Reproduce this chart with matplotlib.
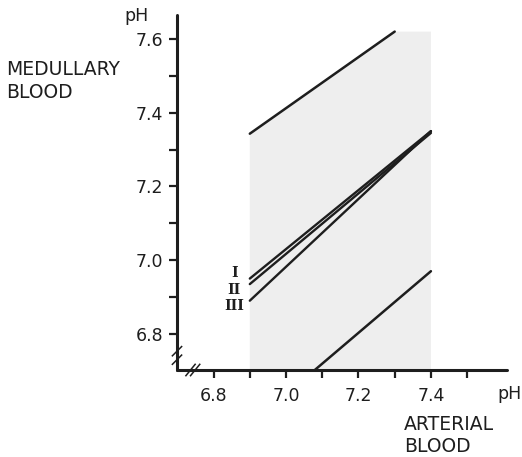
import matplotlib
matplotlib.use("Agg")
import matplotlib.pyplot as plt
import numpy as np

# shaded band (arterial pH 6.9 - 7.4)
shade_x = [6.9, 6.9, 7.3, 7.4, 7.4]
shade_y = [6.70, 7.343, 7.62, 7.62, 6.70]

# outer limit lines
upper_x = [6.9, 7.3]
upper_y = [7.343, 7.62]
lower_x = [7.077, 7.4]
lower_y = [6.70, 6.97]

# regression lines I, II, III
reg_names = ["I", "II", "III"]
reg_x = [6.9, 7.4]
reg_y = {
    "I": [6.95, 7.35],
    "II": [6.935, 7.345],
    "III": [6.89, 7.35],
}

x_major = [6.8, 7.0, 7.2, 7.4]
x_labels = ["6.8", "7.0", "7.2", "7.4"]
x_minor = [6.9, 7.1, 7.3, 7.5]
y_major = [6.8, 7.0, 7.2, 7.4, 7.6]
y_labels = ["6.8", "7.0", "7.2", "7.4", "7.6"]
y_minor = [6.9, 7.1, 7.3, 7.5]

W, H = 522, 457
ink = "#1e1e1e"
fs = 12.5

fig = plt.figure(figsize=(W / 100, H / 100), dpi=100)
ax = fig.add_axes([177 / W, (H - 370) / H, 330 / W, 355 / H])
ax.set_xlim(6.699, 7.610)
ax.set_ylim(6.702, 7.665)

ax.fill(shade_x, shade_y, color="#eeeeee", lw=0, zorder=1)
ax.plot(upper_x, upper_y, color=ink, lw=1.8, solid_capstyle="round", zorder=3)
ax.plot(lower_x, lower_y, color=ink, lw=1.8, solid_capstyle="round", zorder=3)
for name in reg_names:
    ax.plot(reg_x, reg_y[name], color=ink, lw=1.7, solid_capstyle="round", zorder=3)

# roman numeral labels
lab_y = {"I": 6.965, "II": 6.919, "III": 6.876}
for name in reg_names:
    ax.text(6.857, lab_y[name], name, ha="center", va="center", fontsize=10,
            family="DejaVu Serif", weight="bold", color=ink)

for s in ["top", "right"]:
    ax.spines[s].set_visible(False)
for s in ["left", "bottom"]:
    ax.spines[s].set_linewidth(2.2)
    ax.spines[s].set_color(ink)
    ax.spines[s].set_capstyle("round")

ax.set_xticks(x_major)
ax.set_xticklabels(x_labels)
ax.set_xticks(x_minor, minor=True)
ax.set_yticks(y_major)
ax.set_yticklabels(y_labels)
ax.set_yticks(y_minor, minor=True)
ax.tick_params(which="both", direction="out", length=6, width=1.6, color=ink,
               labelsize=fs, labelcolor=ink)
ax.tick_params(axis="x", pad=6)
ax.tick_params(axis="y", pad=4)

# axis break marks
for dy in (-0.012, 0.012):
    ax.plot([-0.014, 0.014], [0.028 + dy, 0.054 + dy], transform=ax.transAxes,
            color=ink, lw=1.1, clip_on=False, zorder=5)
for dx in (-0.007, 0.007):
    ax.plot([0.034 + dx, 0.062 + dx], [-0.016, 0.016], transform=ax.transAxes,
            color=ink, lw=1.1, clip_on=False, zorder=5)

def ftext(px, py, s, size=fs):
    fig.text(px / W, 1 - py / H, s, ha="left", va="top", fontsize=size, color=ink)

ftext(124, 7, "pH")
ftext(6, 60, "MEDULLARY", 13.5)
ftext(6, 83, "BLOOD", 13.5)
ftext(497, 385, "pH")
ftext(404, 415, "ARTERIAL", 13.5)
ftext(404, 437, "BLOOD", 13.5)

fig.savefig("out.png", dpi=100, facecolor="white")
